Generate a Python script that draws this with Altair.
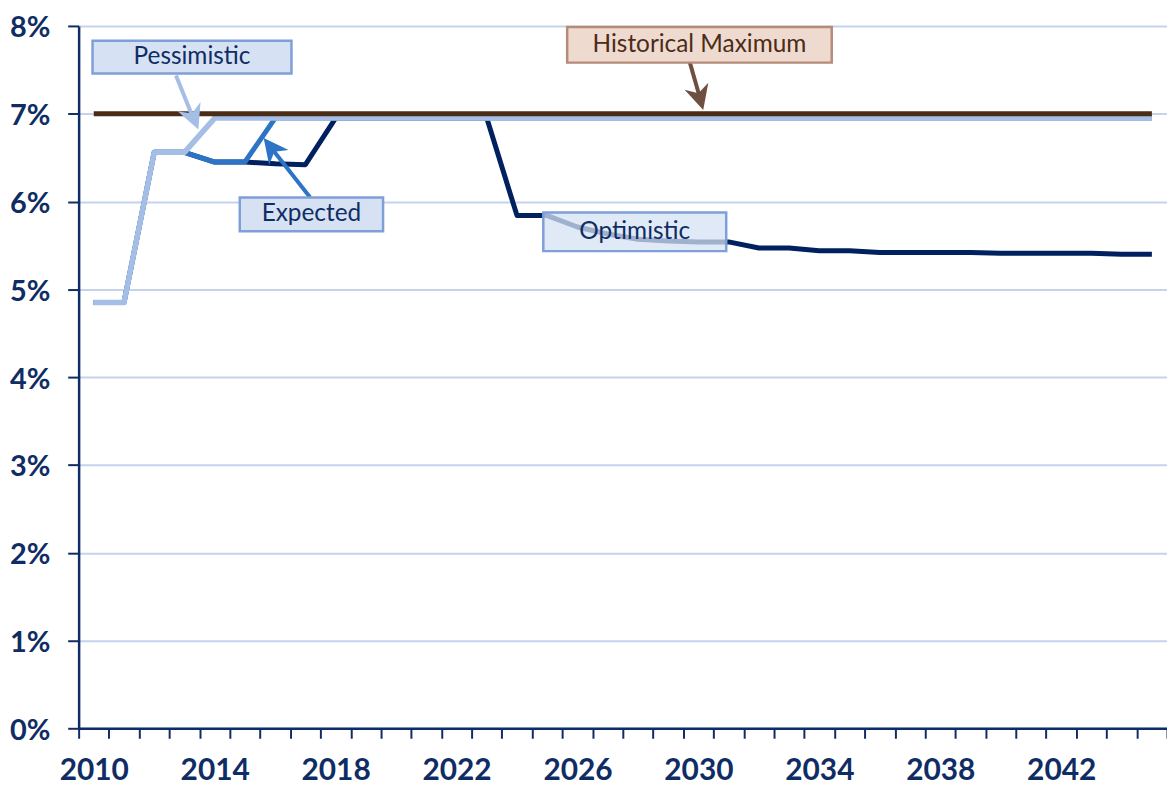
import altair as alt
import pandas as pd

# ---------------- data (percent) ----------------
years = [2010, 2011, 2012, 2013, 2014, 2015, 2016, 2017, 2018, 2019, 2020, 2021,
         2022, 2023, 2024, 2025, 2026, 2027, 2028, 2029, 2030, 2031, 2032, 2033,
         2034, 2035, 2036, 2037, 2038, 2039, 2040, 2041, 2042, 2043, 2044, 2045]

optimistic = [4.85, 4.85, 6.56, 6.56, 6.45, 6.45, 6.43, 6.42, 6.95, 6.95, 6.95, 6.95,
              6.95, 6.95, 5.84, 5.84, 5.71, 5.63, 5.57, 5.55, 5.54, 5.54, 5.47, 5.47,
              5.44, 5.44, 5.42, 5.42, 5.42, 5.42, 5.41, 5.41, 5.41, 5.41, 5.40, 5.40]

expected = [4.85, 4.85, 6.56, 6.56, 6.45, 6.45, 6.95, 6.95, 6.95, 6.95, 6.95, 6.95,
            6.95, 6.95, 6.95, 6.95, 6.95, 6.95, 6.95, 6.95, 6.95, 6.95, 6.95, 6.95,
            6.95, 6.95, 6.95, 6.95, 6.95, 6.95, 6.95, 6.95, 6.95, 6.95, 6.95, 6.95]

pessimistic = [4.85, 4.85, 6.56, 6.56, 6.95, 6.95, 6.95, 6.95, 6.95, 6.95, 6.95, 6.95,
               6.95, 6.95, 6.95, 6.95, 6.95, 6.95, 6.95, 6.95, 6.95, 6.95, 6.95, 6.95,
               6.95, 6.95, 6.95, 6.95, 6.95, 6.95, 6.95, 6.95, 6.95, 6.95, 6.95, 6.95]

historical_max = [7.0, 7.0, 7.0, 7.0, 7.0, 7.0, 7.0, 7.0, 7.0, 7.0, 7.0, 7.0,
                  7.0, 7.0, 7.0, 7.0, 7.0, 7.0, 7.0, 7.0, 7.0, 7.0, 7.0, 7.0,
                  7.0, 7.0, 7.0, 7.0, 7.0, 7.0, 7.0, 7.0, 7.0, 7.0, 7.0, 7.0]

y_ticks = [0, 1, 2, 3, 4, 5, 6, 7, 8]

# annotation boxes (data units)
box_labels = ["Pessimistic", "Historical Maximum", "Expected", "Optimistic"]
box_x1 = [2009.96, 2025.66, 2014.83, 2024.87]
box_x2 = [2016.54, 2034.41, 2019.57, 2030.92]
box_y1 = [7.458, 7.582, 5.661, 5.435]
box_y2 = [7.831, 7.989, 6.045, 5.876]

# arrows (data units): start, shaft end, tip, angle
arrow_names = ["Pessimistic", "Historical Maximum", "Expected"]
arrow_x0 = [2012.72, 2029.70, 2017.16]
arrow_y0 = [7.435, 7.605, 6.045]
arrow_x1 = [2013.30, 2030.06, 2015.86]
arrow_y1 = [6.939, 7.17, 6.616]
arrow_xt = [2013.46, 2030.16, 2015.62]
arrow_yt = [6.82, 7.043, 6.723]
arrow_angle = [338, 344, 142]

# ---------------- styles ----------------
NAVY = "#0F2D64"
C_OPT = "#002060"
C_EXP = "#2E74C6"
C_PES = "#A4BEE6"
C_MAX = "#4A2C17"
GRID = "#C5D4EC"
FONT = "Lato"

box_fill = ["#D6E1F3", "#EFDAD0", "#D6E1F3", "#D6E1F3"]
box_stroke = ["#7F9FD9", "#B58B79", "#7F9FD9", "#7F9FD9"]
box_text = [NAVY, "#4A2C17", NAVY, NAVY]
box_opacity = [1.0, 1.0, 1.0, 0.75]
arrow_color = [C_PES, "#6F5040", C_EXP]

XDOM = [2009.5, 2045.5]
YDOM = [0, 8]
x_tick_vals = [XDOM[0] + i for i in range(37)]

X_AXIS = alt.Axis(
    values=x_tick_vals,
    labelExpr="((datum.value + 0.5 - 2010) % 4 == 0) && (datum.value < 2045) ? toString(datum.value + 0.5) : ''",
    labelOffset=15.2,
    labelOverlap=False,
    labelFlush=False,
    tickSize=10, tickWidth=2, tickColor=NAVY,
    domainColor=NAVY, domainWidth=2.5,
    labelFont=FONT, labelFontSize=30, labelFontWeight="bold",
    labelColor=NAVY, labelPadding=17,
    grid=False, title=None,
)
Y_AXIS = alt.Axis(
    values=y_ticks,
    labelExpr="datum.value + '%'",
    labelOffset=2,
    tickSize=11, tickWidth=2, tickColor=NAVY,
    domainColor=NAVY, domainWidth=2.5,
    labelFont=FONT, labelFontSize=29, labelFontWeight="bold",
    labelColor=NAVY, labelPadding=18,
    grid=True, gridColor=GRID, gridWidth=2,
    title=None,
)


def xenc(field):
    return alt.X(f"{field}:Q", scale=alt.Scale(domain=XDOM, nice=False, zero=False), axis=X_AXIS)


def yenc(field):
    return alt.Y(f"{field}:Q", scale=alt.Scale(domain=YDOM, nice=False, zero=True), axis=Y_AXIS)


series = [
    ("Optimistic", optimistic, C_OPT, 5),
    ("Expected", expected, C_EXP, 5),
    ("Pessimistic", pessimistic, C_PES, 5.5),
    ("Historical Maximum", historical_max, C_MAX, 5),
]

layers = []
for name, vals, col, w in series:
    df = pd.DataFrame({"year": years, "value": vals, "series": name})
    layers.append(
        alt.Chart(df).mark_line(color=col, strokeWidth=w, strokeJoin="round")
        .encode(x=xenc("year"), y=yenc("value"))
    )

boxes = pd.DataFrame({
    "label": box_labels, "x1": box_x1, "x2": box_x2, "y1": box_y1, "y2": box_y2,
    "fill": box_fill, "stroke": box_stroke, "tcol": box_text, "op": box_opacity,
})
boxes["xc"] = (boxes["x1"] + boxes["x2"]) / 2
boxes["yc"] = (boxes["y1"] + boxes["y2"]) / 2

arrows = pd.DataFrame({
    "name": arrow_names, "x0": arrow_x0, "y0": arrow_y0, "x1": arrow_x1,
    "y1": arrow_y1, "xt": arrow_xt, "yt": arrow_yt, "angle": arrow_angle,
    "color": arrow_color,
})

rects = alt.Chart(boxes).mark_rect(strokeWidth=2.5).encode(
    x=xenc("x1"), x2="x2:Q", y=yenc("y1"), y2="y2:Q",
    fill=alt.Fill("fill:N", scale=None),
    stroke=alt.Stroke("stroke:N", scale=None),
    fillOpacity=alt.FillOpacity("op:Q", scale=None),
)

texts = alt.Chart(boxes).mark_text(font=FONT, fontSize=24.5, baseline="middle", align="center").encode(
    x=xenc("xc"), y=yenc("yc"), text="label:N",
    color=alt.Color("tcol:N", scale=None),
)

shafts = alt.Chart(arrows).mark_rule(strokeWidth=4).encode(
    x=xenc("x0"), y=yenc("y0"), x2="x1:Q", y2="y1:Q",
    color=alt.Color("color:N", scale=None),
)

ARROW = "M0,0L-0.85,-1.7L0,-1.2L0.85,-1.7Z"
heads = alt.Chart(arrows).mark_point(shape=ARROW, filled=True, size=850, opacity=1).encode(
    x=xenc("xt"), y=yenc("yt"),
    angle=alt.Angle("angle:Q", scale=None),
    color=alt.Color("color:N", scale=None),
)

chart = alt.layer(*layers, shafts, heads, rects, texts).properties(
    width=1094, height=706,
    padding={"left": 71, "top": 16, "right": 0, "bottom": 57},
    autosize=alt.AutoSizeParams(type="none"),
    background="white",
).configure_view(stroke=None)

chart.save("out.html", embed_options={"renderer": "svg", "actions": False})
